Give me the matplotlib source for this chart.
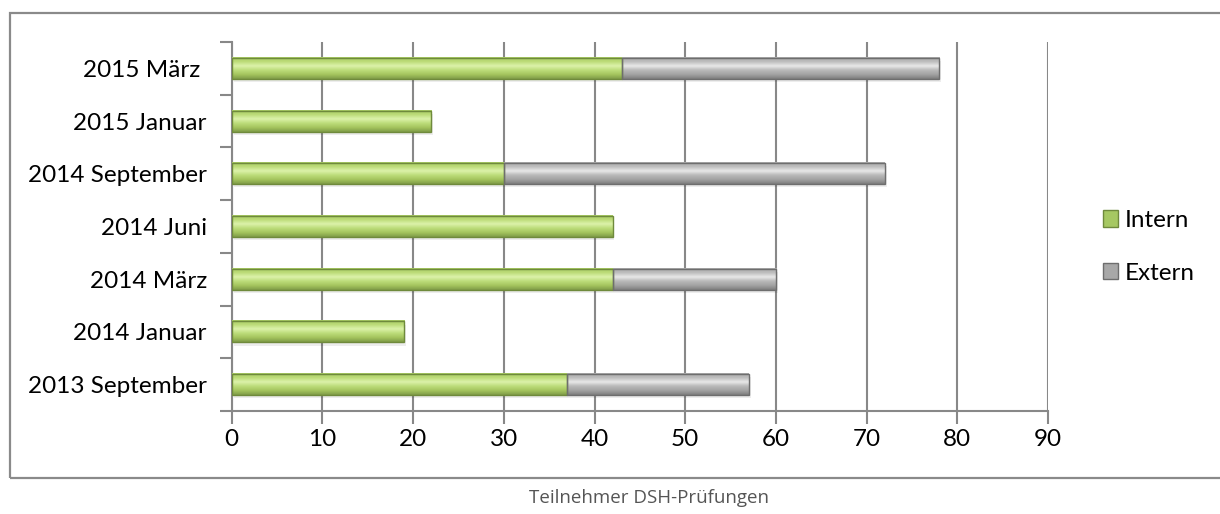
import numpy as np
import matplotlib
matplotlib.use("Agg")
import matplotlib.pyplot as plt
from matplotlib.patches import Rectangle, Patch
from matplotlib.colors import LinearSegmentedColormap

# --- Datos: Teilnehmer DSH-Prüfungen ---
termine = ["2013 September", "2014 Januar", "2014 März", "2014 Juni",
           "2014 September", "2015 Januar", "2015 März "]
intern = [37, 19, 42, 42, 30, 22, 43]
extern = [20, 0, 18, 0, 42, 0, 35]
x_ticks = [0, 10, 20, 30, 40, 50, 60, 70, 80, 90]

plt.rcParams['font.family'] = ['Lato', 'DejaVu Sans']
FS = 17.5

# Verläufe für den "3D"-Look der Balken
cmap_gruen = LinearSegmentedColormap.from_list(
    "gruen", ["#7f9c48", "#a4c45e", "#bcdc7a", "#dcf2aa", "#bcdc78", "#a8ca64"])
cmap_grau = LinearSegmentedColormap.from_list(
    "grau", ["#7e7e7e", "#a2a2a2", "#b9b9b9", "#e8e8e8", "#bdbdbd", "#ababab"])
verlauf = np.linspace(0, 1, 64).reshape(-1, 1)

BAR_H = 0.4

fig = plt.figure(figsize=(12.2, 5.14), dpi=100)
ax = fig.add_axes([0.190, 0.2004, 0.669, 0.7179])

y = np.arange(len(termine))


def balken(links, breite, yc, cmap, kante):
    if breite <= 0:
        return
    unten, oben = yc - BAR_H / 2, yc + BAR_H / 2
    # leichter Schatten unter dem Balken
    ax.add_patch(Rectangle((links + 0.2, unten - 0.06), breite, BAR_H,
                           facecolor="#000000", alpha=0.07, lw=0, zorder=2))
    ax.imshow(verlauf, cmap=cmap, aspect="auto", origin="lower",
              extent=(links, links + breite, unten, oben), zorder=3)
    ax.add_patch(Rectangle((links, unten), breite, BAR_H, facecolor="none",
                           edgecolor=kante, lw=1.0, zorder=4))


for i in range(len(termine)):
    balken(0, intern[i], y[i], cmap_gruen, "#6f8a3c")
    balken(intern[i], extern[i], y[i], cmap_grau, "#6e6e6e")

ax.set_xlim(0, 90)
ax.set_ylim(-0.5, len(termine) - 0.5)
ax.set_xticks(x_ticks)
ax.set_yticks(np.arange(-0.5, len(termine), 1.0))
ax.set_yticklabels([])
ax.set_yticks(y, minor=True)
ax.set_yticklabels(termine, minor=True, fontsize=FS)
ax.tick_params(axis="y", which="minor", length=0, pad=18)
ax.tick_params(axis="y", which="major", length=9, width=1.5, color="#888888")
ax.tick_params(axis="x", length=9, width=1.5, color="#888888",
               labelsize=FS, pad=4)

ax.grid(axis="x", color="#888888", lw=1.5, zorder=0)
ax.set_axisbelow(True)
for s in ["top", "right"]:
    ax.spines[s].set_visible(False)
for s in ["left", "bottom"]:
    ax.spines[s].set_color("#888888")
    ax.spines[s].set_linewidth(1.5)

handles = [Patch(facecolor="#a6c862", edgecolor="#6f8a3c", label="Intern"),
           Patch(facecolor="#a8a8a8", edgecolor="#6e6e6e", label="Extern")]
ax.legend(handles=handles, loc="center left", bbox_to_anchor=(1.04, 0.445),
          frameon=False, fontsize=FS, handlelength=0.65, handleheight=0.65,
          handletextpad=0.25, labelspacing=1.3)

# Rahmen um das Diagramm (rechts offen, über den Bildrand hinaus)
fig.patches.append(Rectangle((10 / 1220, 1 - 478 / 514), 1.2, 465 / 514,
                             transform=fig.transFigure, facecolor="none",
                             edgecolor="#8a8a8a", lw=1.6, zorder=0))

fig.text(0.532, 1 - 498 / 514, "Teilnehmer DSH-Prüfungen", ha="center",
         va="center", fontsize=13.5, color="#555555",
         family=["Open Sans", "DejaVu Sans"])

fig.savefig("out.png", dpi=100)
